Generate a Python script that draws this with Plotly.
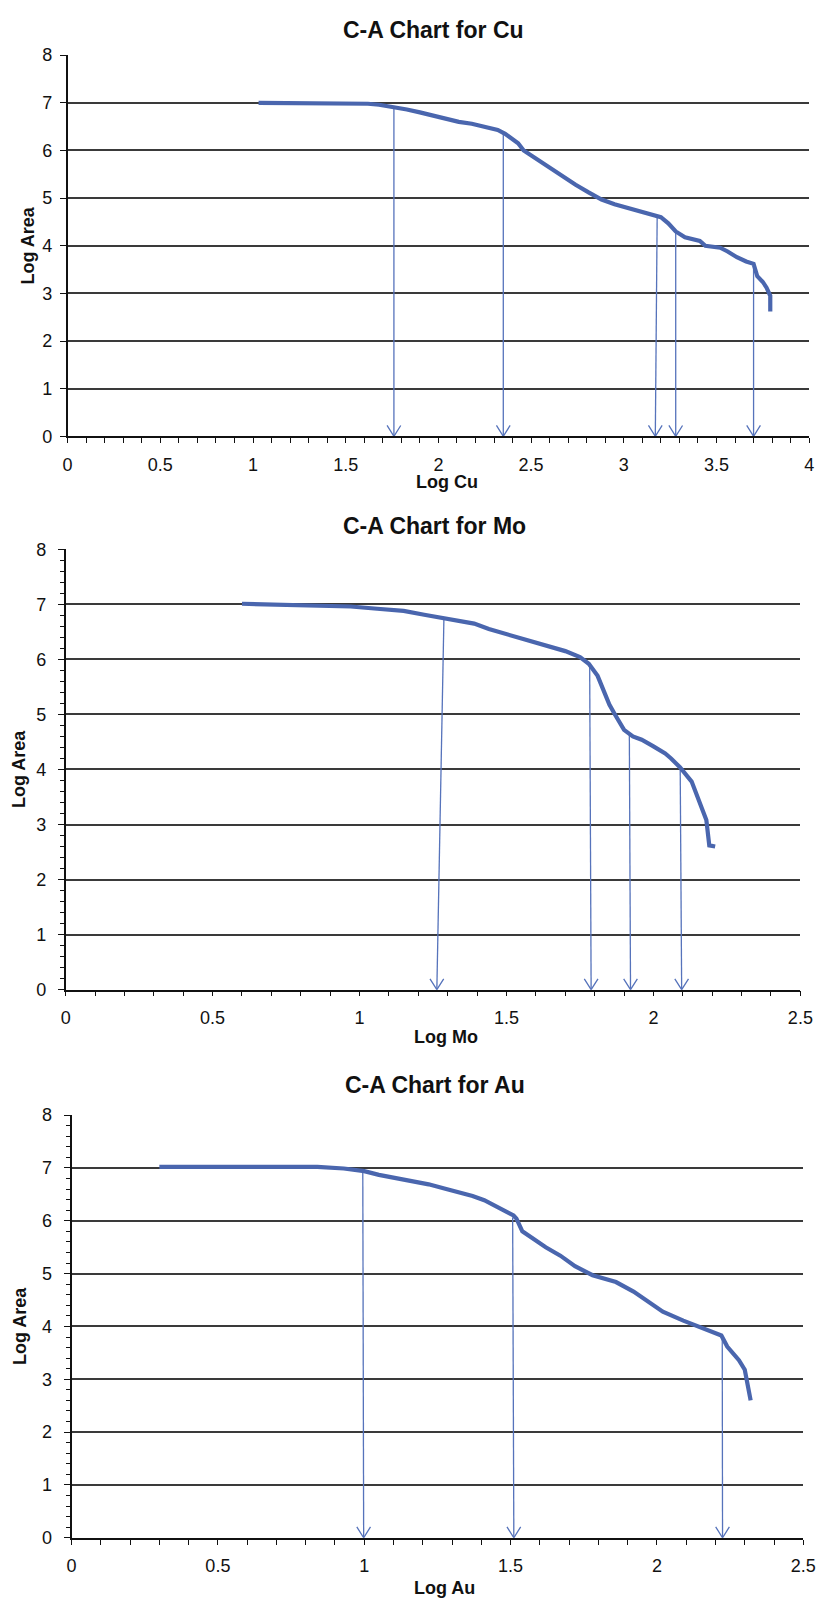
import plotly.graph_objects as go

# ---------------- data ----------------
# Cu: concentration-area curve
cu_log_conc = [1.03, 1.30, 1.57, 1.62, 1.68, 1.76, 1.83, 1.90, 1.97, 2.04, 2.11, 2.18,
               2.25, 2.32, 2.36, 2.40, 2.43, 2.46, 2.53, 2.60, 2.67, 2.74, 2.81, 2.88,
               2.95, 3.02, 3.09, 3.16, 3.20, 3.24, 3.28, 3.33, 3.38, 3.41, 3.44, 3.48,
               3.52, 3.56, 3.61, 3.66, 3.70, 3.72, 3.75, 3.77, 3.79, 3.79]
cu_log_area = [7.00, 7.00, 7.00, 6.98, 6.96, 6.91, 6.86, 6.80, 6.73, 6.66, 6.60, 6.56,
               6.50, 6.43, 6.35, 6.24, 6.15, 6.00, 5.82, 5.63, 5.45, 5.28, 5.12, 4.97,
               4.87, 4.80, 4.72, 4.66, 4.60, 4.47, 4.30, 4.18, 4.13, 4.10, 4.00, 3.98,
               3.96, 3.88, 3.76, 3.67, 3.62, 3.36, 3.24, 3.12, 2.95, 2.62]
cu_thr_top_x = [1.76, 2.35, 3.18, 3.28, 3.70]
cu_thr_top_y = [6.91, 6.35, 4.62, 4.30, 3.62]
cu_thr_bottom_x = [1.76, 2.35, 3.17, 3.28, 3.70]

# Mo: concentration-area curve
mo_log_conc = [0.60, 0.75, 0.90, 0.97, 1.06, 1.15, 1.22, 1.29, 1.39, 1.44, 1.49, 1.56,
               1.64, 1.70, 1.75, 1.78, 1.81, 1.83, 1.85, 1.87, 1.90, 1.93, 1.96, 2.00,
               2.04, 2.06, 2.09, 2.13, 2.16, 2.18, 2.19, 2.21]
mo_log_area = [7.01, 6.99, 6.98, 6.96, 6.92, 6.88, 6.81, 6.74, 6.65, 6.55, 6.47, 6.37,
               6.24, 6.15, 6.04, 5.92, 5.70, 5.45, 5.18, 4.99, 4.72, 4.60, 4.54, 4.42,
               4.29, 4.20, 4.04, 3.78, 3.35, 3.08, 2.62, 2.60]
mo_thr_top_x = [1.287, 1.783, 1.918, 2.091]
mo_thr_top_y = [6.73, 5.92, 4.62, 4.05]
mo_thr_bottom_x = [1.263, 1.788, 1.922, 2.096]

# Au: concentration-area curve
au_log_conc = [0.30, 0.50, 0.70, 0.84, 0.93, 1.00, 1.05, 1.10, 1.16, 1.22, 1.28, 1.33,
               1.37, 1.41, 1.44, 1.48, 1.51, 1.52, 1.54, 1.58, 1.62, 1.67, 1.72, 1.78,
               1.86, 1.92, 1.97, 2.02, 2.09, 2.16, 2.20, 2.22, 2.24, 2.26, 2.28, 2.30,
               2.31, 2.32]
au_log_area = [7.02, 7.02, 7.02, 7.02, 6.99, 6.94, 6.87, 6.82, 6.77, 6.69, 6.60, 6.53,
               6.47, 6.39, 6.30, 6.18, 6.10, 6.04, 5.80, 5.65, 5.50, 5.34, 5.14, 4.97,
               4.84, 4.66, 4.46, 4.28, 4.11, 3.97, 3.88, 3.83, 3.62, 3.48, 3.36, 3.18,
               2.92, 2.60]
au_thr_top_x = [0.995, 1.507, 2.223]
au_thr_top_y = [6.94, 6.06, 3.83]
au_thr_bottom_x = [0.998, 1.511, 2.224]

titles = ["C-A Chart for Cu", "C-A Chart for Mo", "C-A Chart for Au"]
x_titles = ["Log Cu", "Log Mo", "Log Au"]
y_title = "Log Area"
x_max = [4, 2.5, 2.5]
y_max = 8

# ---------------- styling ----------------
W, H = 831, 1608
CURVE = "#4a66ae"
ARROW = "#5673bb"
GRID = "#3a3a3a"
FONT = "Liberation Sans, Arial, sans-serif"

# plot boxes in pixels: left, right, top, bottom
boxes = [(64, 822, 45.7, 431.7), (62, 813, 546, 992), (68, 816, 1119, 1547)]
title_pos = [(438, 20), (439, 523), (440, 1089)]
xtitle_pos = [(452, 478), (451, 1040), (449, 1598)]
ytitle_pos = [(24, 238), (15, 769), (16, 1333)]
y_minor = [False, True, True]

series = [
    (cu_log_conc, cu_log_area, cu_thr_top_x, cu_thr_top_y, cu_thr_bottom_x),
    (mo_log_conc, mo_log_area, mo_thr_top_x, mo_thr_top_y, mo_thr_bottom_x),
    (au_log_conc, au_log_area, au_thr_top_x, au_thr_top_y, au_thr_bottom_x),
]

fig = go.Figure()
annotations = []
layout_axes = {}

HEAD_HALF_W = 7   # px
HEAD_LEN = 11     # px

for i, (xs, ys, tx, ty, bx) in enumerate(series):
    n = "" if i == 0 else str(i + 1)
    xa, ya = "x" + n, "y" + n
    l, r, t, b = boxes[i]
    px_per_x = (r - l) / x_max[i]
    px_per_y = (b - t) / y_max
    hw = HEAD_HALF_W / px_per_x
    hl = HEAD_LEN / px_per_y

    # threshold arrows: shaft from the curve down to the axis, open V head
    ax_x, ax_y = [], []
    for x0, y0, x1 in zip(tx, ty, bx):
        ax_x += [x0, x1, None, x1 - hw, x1, x1 + hw, None]
        ax_y += [y0, 0, None, hl, 0, hl, None]
    fig.add_trace(go.Scatter(x=ax_x, y=ax_y, mode="lines", xaxis=xa, yaxis=ya,
                             line=dict(color=ARROW, width=1.3), hoverinfo="skip",
                             showlegend=False, cliponaxis=False))

    fig.add_trace(go.Scatter(x=xs, y=ys, mode="lines", xaxis=xa, yaxis=ya,
                             line=dict(color=CURVE, width=4.2), showlegend=False))

    xdom = [l / W, r / W]
    ydom = [1 - b / H, 1 - t / H]
    layout_axes["xaxis" + n] = dict(
        domain=xdom, range=[0, x_max[i]], anchor=ya, dtick=0.5, tick0=0,
        showgrid=False, zeroline=False, showline=True, linecolor="#111111", linewidth=1.6,
        ticks="outside", ticklen=5, tickwidth=1.3, tickcolor="#111111",
        minor=dict(dtick=0.1, ticks="outside", ticklen=5, tickwidth=1.3, tickcolor="#111111",
                   showgrid=False),
        tickfont=dict(family=FONT, size=18, color="#111111"), ticklabelstandoff=6,
        fixedrange=True,
    )
    ya_cfg = dict(
        domain=ydom, range=[0, y_max + 0.001], anchor=xa, dtick=1, tick0=0,
        showgrid=True, gridcolor=GRID, gridwidth=1.8, zeroline=False,
        showline=True, linecolor="#111111", linewidth=1.6,
        ticks="outside", ticklen=6, tickwidth=1.3, tickcolor="#111111",
        tickfont=dict(family=FONT, size=18, color="#111111"),
        ticklabelstandoff=4 if i == 0 else 8, fixedrange=True,
    )
    if y_minor[i]:
        ya_cfg["minor"] = dict(dtick=0.2, ticks="outside", ticklen=4, tickwidth=1.2,
                               tickcolor="#111111", showgrid=False)
    layout_axes["yaxis" + n] = ya_cfg

    tx_, ty_ = title_pos[i]
    annotations.append(dict(text="<b>%s</b>" % titles[i], x=tx_ / W, y=1 - ty_ / H,
                            xref="paper", yref="paper", showarrow=False,
                            xanchor="center", yanchor="middle",
                            font=dict(family=FONT, size=23, color="#111111")))
    xx, xy = xtitle_pos[i]
    annotations.append(dict(text="<b>%s</b>" % x_titles[i], x=xx / W, y=1 - xy / H,
                            xref="paper", yref="paper", showarrow=False,
                            xanchor="center", yanchor="middle",
                            font=dict(family=FONT, size=18, color="#111111")))
    yx, yy = ytitle_pos[i]
    annotations.append(dict(text="<b>%s</b>" % y_title, x=yx / W, y=1 - yy / H,
                            xref="paper", yref="paper", showarrow=False, textangle=-90,
                            xanchor="center", yanchor="middle",
                            font=dict(family=FONT, size=18, color="#111111")))

fig.update_layout(
    width=W, height=H, margin=dict(l=0, r=0, t=0, b=0),
    paper_bgcolor="white", plot_bgcolor="white",
    annotations=annotations, showlegend=False, **layout_axes,
)

fig.write_html("out.html", config={"displayModeBar": False})
